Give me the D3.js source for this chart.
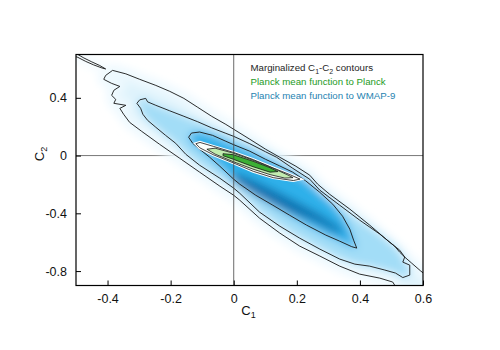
<!DOCTYPE html>
<html>
<head>
<meta charset="utf-8">
<script src="https://cdn.jsdelivr.net/npm/d3@7"></script>
<style>
  body { margin: 0; background: #fff; }
  svg { display: block; font-family: "Liberation Sans", Arial, sans-serif; }
</style>
</head>
<body>
<div id="chart"></div>
<script>
// WMAP-9 contours, [C1, C2]
var wmapOuter = [[0.653,-1.001],[0.520,-0.932],[0.504,-0.876],[0.463,-0.849],[0.399,-0.821],[0.336,-0.766],[0.273,-0.696],[0.209,-0.627],[0.146,-0.537],[0.082,-0.434],[0.019,-0.309],[0,-0.275],[-0.044,-0.212],[-0.108,-0.115],[-0.171,-0.019],[-0.235,0.078],[-0.292,0.168],[-0.330,0.230],[-0.349,0.286],[-0.361,0.327],[-0.342,0.348],[-0.380,0.362],[-0.374,0.389],[-0.387,0.417],[-0.380,0.452],[-0.361,0.479],[-0.387,0.500],[-0.412,0.528],[-0.406,0.555],[-0.384,0.590],[-0.342,0.566],[-0.298,0.528],[-0.247,0.486],[-0.203,0.445],[-0.158,0.396],[-0.114,0.334],[-0.070,0.272],[-0.025,0.216],[0,0.182],[0.051,0.113],[0.101,0.044],[0.146,-0.012],[0.197,-0.074],[0.241,-0.136],[0.266,-0.198],[0.304,-0.268],[0.368,-0.371],[0.431,-0.482],[0.494,-0.600],[0.526,-0.655],[0.542,-0.703],[0.564,-0.745],[0.593,-0.800],[0.621,-0.849]];
var wmapSliver = [[-0.51,0.72],[-0.475,0.676],[-0.450,0.649],[-0.425,0.624],[-0.406,0.600],[-0.418,0.607],[-0.444,0.628],[-0.469,0.652],[-0.494,0.680],[-0.52,0.70]];
var wmapMid = [[-0.307,0.362],[-0.298,0.386],[-0.279,0.396],[-0.273,0.372],[-0.247,0.348],[-0.203,0.310],[-0.158,0.272],[-0.114,0.234],[-0.070,0.192],[-0.025,0.154],[0,0.133],[0.051,0.082],[0.101,0.026],[0.136,-0.012],[0.187,-0.088],[0.241,-0.164],[0.273,-0.240],[0.336,-0.344],[0.399,-0.447],[0.463,-0.544],[0.510,-0.627],[0.526,-0.669],[0.542,-0.703],[0.536,-0.738],[0.558,-0.759],[0.558,-0.828],[0.536,-0.845],[0.513,-0.814],[0.479,-0.793],[0.431,-0.766],[0.384,-0.752],[0.336,-0.717],[0.273,-0.648],[0.209,-0.572],[0.146,-0.489],[0.082,-0.392],[0.019,-0.261],[0,-0.226],[-0.044,-0.157],[-0.108,-0.067],[-0.152,0.009],[-0.184,0.085],[-0.216,0.140],[-0.247,0.196],[-0.273,0.244],[-0.288,0.286],[-0.295,0.327]];
var wmapInner = [[-0.143,0.127],[-0.134,0.156],[-0.108,0.163],[-0.067,0.140],[-0.025,0.099],[0,0.075],[0.051,0.030],[0.101,-0.026],[0.146,-0.072],[0.187,-0.115],[0.228,-0.175],[0.273,-0.255],[0.314,-0.337],[0.345,-0.420],[0.368,-0.510],[0.380,-0.586],[0.390,-0.641],[0.374,-0.631],[0.336,-0.593],[0.292,-0.551],[0.231,-0.482],[0.177,-0.413],[0.124,-0.344],[0.070,-0.275],[0.019,-0.198],[0,-0.164],[-0.044,-0.074],[-0.076,-0.012],[-0.108,0.044],[-0.130,0.085]];
// darkest part of the WMAP-9 density
var wmapCore = [[-0.006,-0.115],[0.051,-0.157],[0.130,-0.240],[0.209,-0.330],[0.273,-0.406],[0.330,-0.489],[0.352,-0.544],[0.320,-0.530],[0.257,-0.461],[0.177,-0.392],[0.098,-0.309],[0.035,-0.226],[0,-0.171]];

// Planck contours
var planckOuter = [[-0.120,0.082],[-0.107,0.091],[-0.065,0.064],[-0.001,0.022],[0.062,-0.028],[0.125,-0.086],[0.178,-0.132],[0.210,-0.163],[0.189,-0.173],[0.125,-0.153],[0.062,-0.109],[-0.001,-0.051],[-0.065,0.006],[-0.107,0.053]];
var planckMid = [[-0.085,0.044],[-0.059,0.051],[-0.002,0.017],[0.061,-0.032],[0.124,-0.087],[0.172,-0.135],[0.188,-0.153],[0.162,-0.156],[0.115,-0.132],[0.061,-0.094],[-0.002,-0.042],[-0.059,0.010]];
var planckInner = [[-0.034,0.013],[-0.002,0.006],[0.061,-0.039],[0.115,-0.084],[0.140,-0.111],[0.115,-0.115],[0.061,-0.077],[-0.002,-0.025],[-0.034,-0.001]];

var c1Ticks = [-0.4, -0.2, 0, 0.2, 0.4, 0.6];
var c2Ticks = [0.4, 0, -0.4, -0.8];
var legendLabels = ['Marginalized C_1-C_2 contours', 'Planck mean function to Planck', 'Planck mean function to WMAP-9'];
var legendColors = ['#1e1e1e', '#259b25', '#2683b1'];

var width = 500, height = 350;
var x = d3.scaleLinear().domain([-0.5, 0.6]).range([76, 423]);
var y = d3.scaleLinear().domain([-0.9, 0.7]).range([285.5, 54.5]);

var svg = d3.select('#chart').append('svg')
  .attr('width', width)
  .attr('height', height);

var defs = svg.append('defs');
defs.append('clipPath').attr('id', 'plot-clip')
  .append('rect')
  .attr('x', x(-0.5)).attr('y', y(0.7))
  .attr('width', x(0.6) - x(-0.5)).attr('height', y(-0.9) - y(0.7));
defs.append('filter').attr('id', 'smooth')
  .attr('filterUnits', 'userSpaceOnUse')
  .attr('x', 0).attr('y', 0).attr('width', width).attr('height', height)
  .append('feGaussianBlur').attr('stdDeviation', 4);

// note: a global named "closed" would clash with window.closed
var contourPath = d3.line()
  .x(function(d) { return x(d[0]); })
  .y(function(d) { return y(d[1]); })
  .curve(d3.curveLinearClosed);

var plot = svg.append('g').attr('clip-path', 'url(#plot-clip)');

// the C2 = 0 line goes under the density, the C1 = 0 line over it
plot.append('line')
  .attr('x1', x(-0.5)).attr('x2', x(0.6))
  .attr('y1', y(0)).attr('y2', y(0))
  .attr('stroke', '#555').attr('stroke-width', 0.8);

var density = plot.append('g').attr('filter', 'url(#smooth)');
density.selectAll('path')
  .data([
    { pts: wmapOuter, fill: '#dff3fc', halo: '#eef9fe', w: 12 },
    { pts: wmapSliver, fill: '#eef9fe', halo: '#f3fbfe', w: 8 },
    { pts: wmapMid, fill: '#a2ddf7', halo: 'none', w: 0 },
    { pts: wmapInner, fill: '#2fb0ea', halo: 'none', w: 0 },
    { pts: wmapCore, fill: '#0872b0', halo: 'none', w: 0 }
  ])
  .enter().append('path')
  .attr('d', function(d) { return contourPath(d.pts); })
  .attr('fill', function(d) { return d.fill; })
  .attr('stroke', function(d) { return d.halo; })
  .attr('stroke-width', function(d) { return d.w; })
  .attr('stroke-linejoin', 'round');

plot.selectAll('.wmap-line')
  .data([wmapOuter, wmapSliver, wmapMid, wmapInner])
  .enter().append('path')
  .classed('wmap-line', true)
  .attr('d', contourPath)
  .attr('fill', 'none')
  .attr('stroke', '#151515')
  .attr('stroke-width', 0.9)
  .attr('stroke-linejoin', 'round');

// white halo under the Planck outline
plot.append('path')
  .attr('d', contourPath(planckOuter))
  .attr('fill', '#fff')
  .attr('stroke', '#fff')
  .attr('stroke-width', 3);

plot.selectAll('.planck')
  .data([
    { pts: planckOuter, fill: '#fbfefa' },
    { pts: planckMid, fill: '#c2ecb0' },
    { pts: planckInner, fill: '#3cb034' }
  ])
  .enter().append('path')
  .classed('planck', true)
  .attr('d', function(d) { return contourPath(d.pts); })
  .attr('fill', function(d) { return d.fill; })
  .attr('stroke', '#151515')
  .attr('stroke-width', 0.8);

plot.append('line')
  .attr('x1', x(0)).attr('x2', x(0))
  .attr('y1', y(0.7)).attr('y2', y(-0.9))
  .attr('stroke', '#444').attr('stroke-width', 0.8);

// axes, ticks pointing inwards
var xAxis = svg.append('g')
  .attr('transform', 'translate(0,' + y(-0.9) + ')')
  .call(d3.axisBottom(x).tickValues(c1Ticks).tickSize(-5).tickPadding(8.5)
    .tickFormat(function(d) { return String(d); }));
var yAxis = svg.append('g')
  .attr('transform', 'translate(' + x(-0.5) + ',0)')
  .call(d3.axisLeft(y).tickValues(c2Ticks).tickSize(-5).tickPadding(9)
    .tickFormat(function(d) { return String(d); }));

[xAxis, yAxis].forEach(function(ax) {
  ax.select('.domain').remove();
  ax.selectAll('.tick line').attr('stroke', '#000').attr('stroke-width', 1);
  ax.selectAll('.tick text')
    .attr('fill', '#111')
    .style('font-family', '"Liberation Sans", Arial, sans-serif')
    .style('font-size', '12.5px');
});

svg.append('rect')
  .attr('x', x(-0.5)).attr('y', y(0.7))
  .attr('width', x(0.6) - x(-0.5)).attr('height', y(-0.9) - y(0.7))
  .attr('fill', 'none')
  .attr('stroke', '#000')
  .attr('stroke-width', 1.2);

// text with "_n" subscripts
function subText(sel, str, subSize, shift) {
  var parts = str.split(/_(\d)/);
  parts.forEach(function(p, i) {
    if (!p) return;
    var t = sel.append('tspan').text(p);
    if (i % 2 === 1) {
      t.attr('dy', shift).style('font-size', subSize);
    } else if (i > 0) {
      t.attr('dy', -shift);
    }
  });
}

var xTitle = svg.append('text')
  .attr('x', 248.5).attr('y', 315)
  .attr('text-anchor', 'middle')
  .attr('fill', '#111')
  .style('font-size', '13px');
subText(xTitle, 'C_1', '9px', 3);

var yTitle = svg.append('text')
  .attr('transform', 'translate(44,154) rotate(-90)')
  .attr('text-anchor', 'middle')
  .attr('fill', '#111')
  .style('font-size', '13px');
subText(yTitle, 'C_2', '9px', 3);

svg.selectAll('.legend')
  .data(legendLabels)
  .enter().append('text')
  .classed('legend', true)
  .attr('x', 250.5)
  .attr('y', function(d, i) { return 71 + i * 14; })
  .attr('fill', function(d, i) { return legendColors[i]; })
  .style('font-size', '9.7px')
  .each(function(d) { subText(d3.select(this), d, '7px', 2.5); });
</script>
</body>
</html>
